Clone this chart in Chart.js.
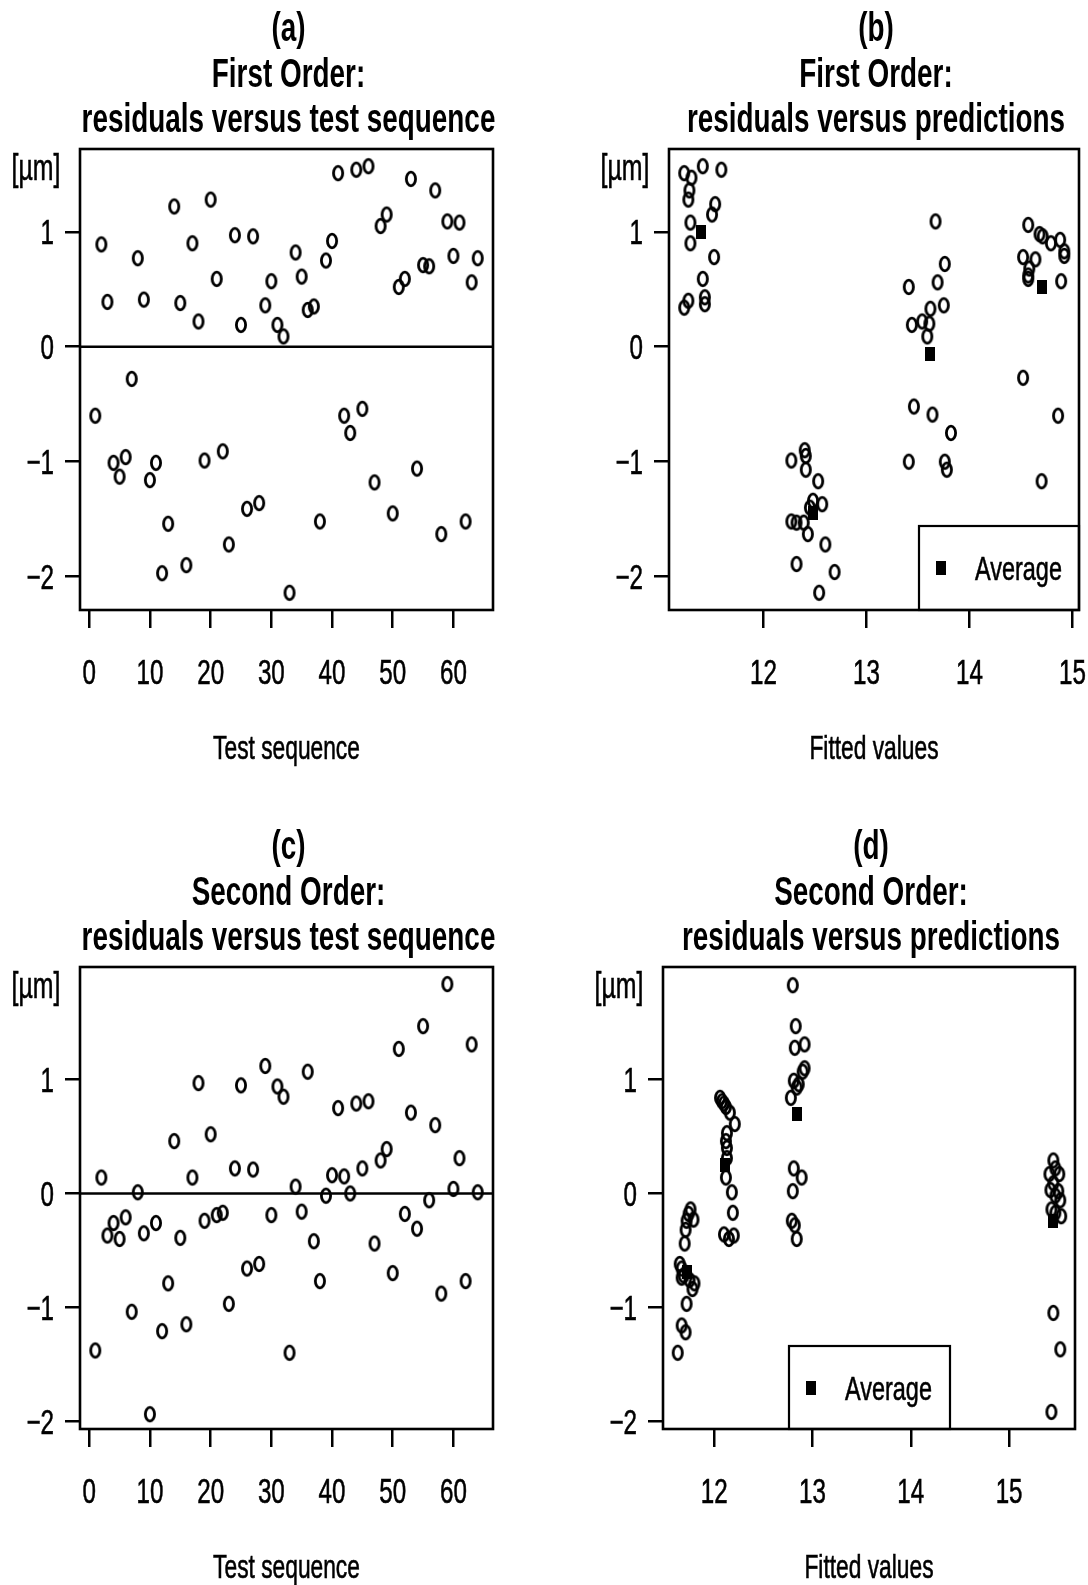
<!DOCTYPE html>
<html>
<head>
<meta charset="utf-8">
<title>Residual plots</title>
<script src="https://cdn.jsdelivr.net/npm/chart.js@4.4.1/dist/chart.umd.min.js"></script>
<style>
  html, body { margin: 0; padding: 0; background: #fff; }
  #page { position: relative; width: 1088px; height: 1585px; overflow: hidden; background: #fff; }
  #page canvas { position: absolute; }
</style>
</head>
<body>
<div id="page">
  <canvas id="panelA" width="544" height="800" style="left:0;top:0"></canvas>
  <canvas id="panelB" width="544" height="800" style="left:544px;top:0"></canvas>
  <canvas id="panelC" width="544" height="785" style="left:0;top:800px"></canvas>
  <canvas id="panelD" width="544" height="785" style="left:544px;top:800px"></canvas>
</div>
<script>
// run order of the 64 tests
const testSeq = [
  1, 2, 3, 4, 5, 6, 7, 8, 9, 10, 11, 12, 13, 14, 15, 16,
  17, 18, 19, 20, 21, 22, 23, 24, 25, 26, 27, 28, 29, 30, 31, 32,
  33, 34, 35, 36, 37, 38, 39, 40, 41, 42, 43, 44, 45, 46, 47, 48,
  49, 50, 51, 52, 53, 54, 55, 56, 57, 58, 59, 60, 61, 62, 63, 64
];

// first order model: residuals in test order [µm]
const firstResid = [
  -0.60, 0.89, 0.39, -1.01, -1.13, -0.96, -0.28, 0.77, 0.41, -1.16, -1.01, -1.97, -1.54, 1.22, 0.38, -1.90,
  0.90, 0.22, -0.99, 1.28, 0.59, -0.91, -1.72, 0.97, 0.19, -1.41, 0.96, -1.36, 0.36, 0.57, 0.19, 0.09,
  -2.14, 0.82, 0.61, 0.32, 0.35, -1.52, 0.75, 0.92, 1.51, -0.60, -0.75, 1.54, -0.54, 1.57, -1.18, 1.05,
  1.15, -1.45, 0.52, 0.59, 1.46, -1.06, 0.71, 0.70, 1.36, -1.63, 1.09, 0.79, 1.08, -1.52, 0.56, 0.77
];

// first order model: fitted values and their residuals
const firstFitted = [
  11.23, 11.30, 11.41, 11.59, 11.28, 11.27, 11.53, 11.50, 11.29, 11.29, 11.52, 11.41, 11.27, 11.23, 11.43, 11.43,
  12.27, 12.40, 12.41, 12.41, 12.53, 12.48, 12.45, 12.57, 12.27, 12.32, 12.39, 12.43, 12.60, 12.32, 12.69, 12.54,
  13.67, 13.76, 13.69, 13.41, 13.75, 13.62, 13.54, 13.44, 13.61, 13.59, 13.46, 13.64, 13.82, 13.41, 13.76, 13.78,
  14.57, 14.68, 14.71, 14.79, 14.88, 14.92, 14.92, 14.52, 14.64, 14.58, 14.57, 14.57, 14.89, 14.52, 14.86, 14.70
];
const firstFitResid = [
  1.51, 1.47, 1.57, 1.54, 1.36, 1.28, 1.24, 1.15, 1.08, 0.90, 0.78, 0.59, 0.40, 0.34, 0.43, 0.37,
  -0.99, -0.90, -0.95, -1.07, -1.17, -1.34, -1.40, -1.37, -1.52, -1.53, -1.53, -1.63, -1.72, -1.89, -1.96, -2.14,
  1.09, 0.72, 0.56, 0.52, 0.36, 0.33, 0.22, 0.19, 0.20, 0.09, -0.52, -0.59, -0.75, -1.00, -1.00, -1.07,
  1.06, 0.98, 0.96, 0.90, 0.93, 0.83, 0.79, 0.78, 0.76, 0.68, 0.62, 0.59, 0.57, -0.27, -0.60, -1.17
];
const firstAvgFitted = [11.39, 12.48, 13.62, 14.70];
const firstAvgResid = [1.00, -1.45, -0.06, 0.52];

// second order model: residuals in test order [µm]
const secondResid = [
  -1.38, 0.14, -0.37, -0.26, -0.40, -0.21, -1.04, 0.01, -0.35, -1.94, -0.26, -1.21, -0.79, 0.46, -0.39, -1.15,
  0.14, 0.97, -0.24, 0.52, -0.19, -0.17, -0.97, 0.22, 0.95, -0.66, 0.21, -0.62, 1.12, -0.19, 0.94, 0.85,
  -1.40, 0.06, -0.16, 1.07, -0.42, -0.77, -0.02, 0.16, 0.75, 0.15, 0.00, 0.79, 0.22, 0.81, -0.44, 0.29,
  0.39, -0.70, 1.27, -0.18, 0.71, -0.31, 1.47, -0.06, 0.60, -0.88, 1.84, 0.04, 0.31, -0.77, 1.31, 0.01
];

// second order model: fitted values and their residuals
const secondFitted = [
  11.76, 11.74, 11.79, 11.72, 11.71, 11.70, 11.65, 11.67, 11.69, 11.67, 11.75, 11.80, 11.78, 11.72, 11.67, 11.71, 11.63,
  12.06, 12.08, 12.10, 12.12, 12.16, 12.21, 12.13, 12.12, 12.13, 12.13, 12.12, 12.18, 12.19, 12.10, 12.15, 12.20,
  12.80, 12.83, 12.92, 12.82, 12.92, 12.90, 12.81, 12.86, 12.84, 12.78, 12.81, 12.89, 12.80, 12.79, 12.82, 12.84,
  15.45, 15.47, 15.41, 15.51, 15.45, 15.42, 15.50, 15.47, 15.52, 15.43, 15.47, 15.53, 15.45, 15.52, 15.43
];
const secondFitResid = [
  -0.14, -0.18, -0.23, -0.24, -0.32, -0.44, -0.62, -0.66, -0.72, -0.74, -0.76, -0.79, -0.84, -0.97, -1.16, -1.22, -1.40,
  0.84, 0.81, 0.79, 0.76, 0.71, 0.61, 0.53, 0.46, 0.40, 0.31, 0.14, 0.01, -0.17, -0.36, -0.40, -0.37,
  1.83, 1.47, 1.31, 1.28, 1.10, 1.07, 0.99, 0.96, 0.93, 0.84, 0.22, 0.14, 0.02, -0.24, -0.28, -0.40,
  0.29, 0.22, 0.17, 0.17, 0.09, 0.03, 0.02, -0.02, -0.06, -0.14, -0.17, -0.20, -1.05, -1.37, -1.92
];
const secondAvgFitted = [11.72, 12.11, 12.84, 15.45];
const secondAvgResid = [-0.69, 0.25, 0.70, -0.24];

// axis ticks
const seqTicks = [0, 10, 20, 30, 40, 50, 60];
const fitTicks = [12, 13, 14, 15];
const residTicks = [-2, -1, 0, 1];

const panelTitles = {
  a: ['(a)', 'First Order:', 'residuals versus test sequence'],
  b: ['(b)', 'First Order:', 'residuals versus predictions'],
  c: ['(c)', 'Second Order:', 'residuals versus test sequence'],
  d: ['(d)', 'Second Order:', 'residuals versus predictions']
};

const FONT = '"Liberation Sans", Arial, Helvetica, sans-serif';
const INK = '#000';

// open ellipse used for every observation
const ringMark = (() => {
  const c = document.createElement('canvas');
  c.width = 16; c.height = 20;
  const g = c.getContext('2d');
  g.strokeStyle = INK;
  g.lineWidth = 2.8;
  g.beginPath();
  g.ellipse(8, 10, 4.6, 6.8, 0, 0, Math.PI * 2);
  g.stroke();
  return c;
})();

// filled block used for the group averages
const blockMark = (() => {
  const c = document.createElement('canvas');
  c.width = 10; c.height = 14;
  const g = c.getContext('2d');
  g.fillStyle = INK;
  g.fillRect(0, 0, 10, 14);
  return c;
})();

// tall, narrow lettering: draw at size and squeeze horizontally
function narrowText(ctx, text, x, y, size, weight, align, baseline) {
  ctx.save();
  ctx.font = `${weight} ${size}px ${FONT}`;
  ctx.fillStyle = INK;
  ctx.textAlign = align;
  ctx.textBaseline = baseline || 'alphabetic';
  ctx.translate(x, y);
  ctx.scale(weight === 'bold' ? 0.68 : 0.69, 1);
  ctx.fillText(text, 0, 0);
  if (weight !== 'bold') {
    ctx.strokeStyle = INK;
    ctx.lineWidth = 0.6;
    ctx.strokeText(text, 0, 0);
  }
  ctx.restore();
}

function tickText(v) {
  return v < 0 ? '\u2212' + Math.abs(v) : String(v);
}

// frame, tick labels, titles, zero line and legend around each panel
const panelDecor = {
  id: 'panelDecor',
  beforeDatasetsDraw(chart, args, opts) {
    if (!opts.zeroLine) return;
    const { ctx, chartArea: a, scales } = chart;
    const y0 = scales.y.getPixelForValue(0);
    ctx.save();
    ctx.strokeStyle = INK;
    ctx.lineWidth = 2.5;
    ctx.beginPath();
    ctx.moveTo(a.left, y0);
    ctx.lineTo(a.right, y0);
    ctx.stroke();
    ctx.restore();
  },
  afterDraw(chart, args, opts) {
    const { ctx, chartArea: a, scales } = chart;
    const cx = (a.left + a.right) / 2;

    ctx.save();
    ctx.strokeStyle = INK;
    ctx.lineWidth = 2.6;
    ctx.strokeRect(a.left, a.top, a.right - a.left, a.bottom - a.top);
    ctx.restore();

    scales.x.ticks.forEach(t => {
      narrowText(ctx, tickText(t.value), scales.x.getPixelForValue(t.value), a.bottom + 74, 35, 'normal', 'center');
    });
    scales.y.ticks.forEach(t => {
      narrowText(ctx, tickText(t.value), a.left - 26, scales.y.getPixelForValue(t.value) + 12.5, 35, 'normal', 'right');
    });

    narrowText(ctx, '[\u00b5m]', a.left - 44, a.top + 21, 36, 'normal', 'center', 'middle');
    narrowText(ctx, opts.xLabel, cx, a.bottom + 149, 33, 'normal', 'center');

    const lines = opts.title;
    narrowText(ctx, lines[0], cx + 2, a.top - 108, 41, 'bold', 'center');
    narrowText(ctx, lines[1], cx + 2, a.top - 62, 41, 'bold', 'center');
    narrowText(ctx, lines[2], cx + 2, a.top - 17, 41, 'bold', 'center');

    const lg = opts.legend;
    if (lg) {
      const left = a.left + lg.left;
      const right = a.left + lg.right;
      const top = a.bottom - lg.height;
      ctx.save();
      ctx.strokeStyle = INK;
      ctx.lineWidth = 2.2;
      ctx.strokeRect(left, top, right - left, a.bottom - top);
      ctx.drawImage(blockMark, left + 22 - blockMark.width / 2, top + lg.rowY - blockMark.height / 2);
      ctx.restore();
      narrowText(ctx, lg.text, left + 56, top + lg.rowY + 12, 34, 'normal', 'left');
    }
  }
};

function axis(min, max, ticks, tickLength, boxSize, horizontal) {
  return {
    type: 'linear',
    position: horizontal ? 'bottom' : 'left',
    min: min,
    max: max,
    afterBuildTicks: s => { s.ticks = ticks.map(v => ({ value: v })); },
    afterFit: s => { if (horizontal) { s.height = boxSize; } else { s.width = boxSize; } },
    ticks: { display: false },
    grid: {
      display: true,
      drawOnChartArea: false,
      drawTicks: true,
      tickLength: tickLength,
      tickWidth: 2.5,
      tickColor: INK,
      lineWidth: 2.5,
      color: INK
    },
    border: { display: false }
  };
}

function pointSet(xs, ys, mark) {
  return {
    data: xs.map((x, i) => ({ x: x, y: ys[i] })),
    pointStyle: mark,
    pointRadius: 6,
    pointHoverRadius: 6
  };
}

function residualPanel(id, p) {
  const sets = [pointSet(p.xs, p.ys, ringMark)];
  if (p.avgX) sets.push(pointSet(p.avgX, p.avgY, blockMark));
  return new Chart(document.getElementById(id), {
    type: 'scatter',
    data: { datasets: sets },
    options: {
      responsive: false,
      animation: false,
      events: [],
      layout: { padding: { left: 0, right: p.padRight, top: p.padTop, bottom: p.padBottom } },
      plugins: {
        legend: { display: false },
        tooltip: { enabled: false },
        panelDecor: { title: p.title, xLabel: p.xLabel, zeroLine: !!p.zeroLine, legend: p.legend || null }
      },
      scales: {
        x: axis(p.xMin, p.xMax, p.xTicks, 18, 40, true),
        y: axis(p.yMin, p.yMax, residTicks, 15, p.left, false)
      }
    },
    plugins: [panelDecor]
  });
}

residualPanel('panelA', {
  xs: testSeq, ys: firstResid,
  xMin: -1.52, xMax: 66.52, xTicks: seqTicks,
  yMin: -2.29, yMax: 1.72,
  left: 80, padRight: 51, padTop: 149, padBottom: 150,
  title: panelTitles.a, xLabel: 'Test sequence', zeroLine: true
});

residualPanel('panelB', {
  xs: firstFitted, ys: firstFitResid, avgX: firstAvgFitted, avgY: firstAvgResid,
  xMin: 11.082, xMax: 15.063, xTicks: fitTicks,
  yMin: -2.29, yMax: 1.72,
  left: 125, padRight: 9, padTop: 149, padBottom: 150,
  title: panelTitles.b, xLabel: 'Fitted values',
  legend: { left: 250, right: 410, height: 84, rowY: 42, text: 'Average' }
});

residualPanel('panelC', {
  xs: testSeq, ys: secondResid,
  xMin: -1.52, xMax: 66.52, xTicks: seqTicks,
  yMin: -2.07, yMax: 1.99,
  left: 80, padRight: 51, padTop: 167, padBottom: 116,
  title: panelTitles.c, xLabel: 'Test sequence', zeroLine: true
});

residualPanel('panelD', {
  xs: secondFitted, ys: secondFitResid, avgX: secondAvgFitted, avgY: secondAvgResid,
  xMin: 11.48, xMax: 15.67, xTicks: fitTicks,
  yMin: -2.07, yMax: 1.99,
  left: 119, padRight: 13, padTop: 167, padBottom: 116,
  title: panelTitles.d, xLabel: 'Fitted values',
  legend: { left: 126, right: 287, height: 83, rowY: 42, text: 'Average' }
});
</script>
</body>
</html>
